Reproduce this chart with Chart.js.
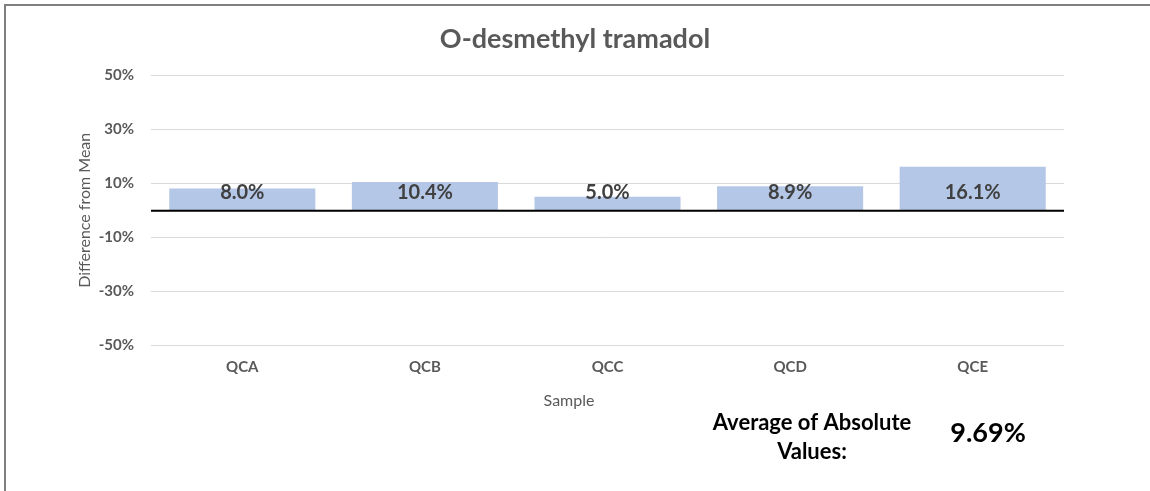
<!DOCTYPE html>
<html>
<head>
<meta charset="utf-8">
<script src="https://cdn.jsdelivr.net/npm/chart.js@4.4.1/dist/chart.umd.min.js"></script>
<style>
  html, body { margin: 0; padding: 0; background: #ffffff; }
  #wrap { position: relative; width: 1150px; height: 491px; }
</style>
</head>
<body>
<div id="wrap"><canvas id="c" width="1150" height="491"></canvas></div>
<script>
const categories = ['QCA', 'QCB', 'QCC', 'QCD', 'QCE'];
const diffValues = [8.0, 10.4, 5.0, 8.9, 16.1];
const valueLabels = ['8.0%', '10.4%', '5.0%', '8.9%', '16.1%'];
const yTickValues = [-50, -30, -10, 10, 30, 50];
const chartTitle = 'O-desmethyl tramadol';
const yAxisTitle = 'Difference from Mean';
const xAxisTitle = 'Sample';
const avgLabelLines = ['Average of Absolute', 'Values:'];
const avgValueText = '9.69%';

const FONT = 'Lato, "Open Sans", "DejaVu Sans", sans-serif';

const decorPlugin = {
  id: 'decor',
  beforeDraw(chart) {
    const ctx = chart.ctx;
    ctx.save();
    ctx.fillStyle = '#ffffff';
    ctx.fillRect(0, 0, chart.width, chart.height);
    ctx.strokeStyle = '#7f7f7f';
    ctx.lineWidth = 2;
    ctx.beginPath();
    ctx.moveTo(5, chart.height);
    ctx.lineTo(5, 5);
    ctx.lineTo(chart.width, 5);
    ctx.stroke();
    // chart title
    ctx.fillStyle = '#595959';
    ctx.font = 'bold 27px ' + FONT;
    ctx.textAlign = 'center';
    ctx.textBaseline = 'middle';
    ctx.fillText(chartTitle, 575, 39);
    ctx.restore();
  },
  afterDatasetsDraw(chart) {
    const ctx = chart.ctx;
    const y = chart.scales.y;
    const zeroY = y.getPixelForValue(0);
    ctx.save();
    // zero line
    ctx.strokeStyle = '#000000';
    ctx.lineWidth = 2;
    ctx.beginPath();
    ctx.moveTo(chart.chartArea.left, zeroY + 0.5);
    ctx.lineTo(chart.chartArea.right, zeroY + 0.5);
    ctx.stroke();
    // data labels
    ctx.fillStyle = '#404040';
    ctx.font = 'bold 20px ' + FONT;
    ctx.textAlign = 'center';
    ctx.textBaseline = 'middle';
    const meta = chart.getDatasetMeta(0);
    meta.data.forEach((bar, i) => {
      ctx.fillText(valueLabels[i], bar.x, zeroY - 18);
    });
    // x axis title
    ctx.fillStyle = '#595959';
    ctx.font = '16px ' + FONT;
    ctx.fillText(xAxisTitle, 569, 401);
    // average annotation
    ctx.fillStyle = '#000000';
    ctx.font = 'bold 22px ' + FONT;
    ctx.fillText(avgLabelLines[0], 812, 423);
    ctx.fillText(avgLabelLines[1], 812, 452);
    ctx.font = 'bold 27px ' + FONT;
    ctx.fillText(avgValueText, 988, 433);
    ctx.restore();
  }
};

new Chart(document.getElementById('c'), {
  type: 'bar',
  data: {
    labels: categories,
    datasets: [{
      data: diffValues,
      backgroundColor: '#b4c7e7',
      borderWidth: 0,
      categoryPercentage: 0.8,
      barPercentage: 1.0
    }]
  },
  options: {
    responsive: false,
    animation: false,
    devicePixelRatio: 1,
    layout: { padding: { left: 0, right: 86, top: 75, bottom: 0 } },
    plugins: {
      legend: { display: false },
      tooltip: { enabled: false },
      title: { display: false }
    },
    scales: {
      x: {
        grid: { display: false, drawTicks: false },
        border: { display: false },
        ticks: {
          color: '#595959',
          font: { family: FONT, size: 15, weight: 'bold' },
          padding: 13
        },
        afterFit(scale) { scale.height = 145.5; }
      },
      y: {
        min: -50,
        max: 50,
        afterBuildTicks(scale) {
          scale.ticks = yTickValues.map(v => ({ value: v }));
        },
        grid: { color: '#d9d9d9', lineWidth: 1, drawTicks: false },
        border: { display: false },
        ticks: {
          color: '#595959',
          font: { family: FONT, size: 15, weight: 'bold' },
          padding: 17,
          callback: v => v + '%'
        },
        title: {
          display: true,
          text: yAxisTitle,
          color: '#595959',
          font: { family: FONT, size: 16 },
          padding: { top: 75, bottom: 0 }
        },
        afterFit(scale) { scale.width = 151; }
      }
    }
  },
  plugins: [decorPlugin]
});
</script>
</body>
</html>
